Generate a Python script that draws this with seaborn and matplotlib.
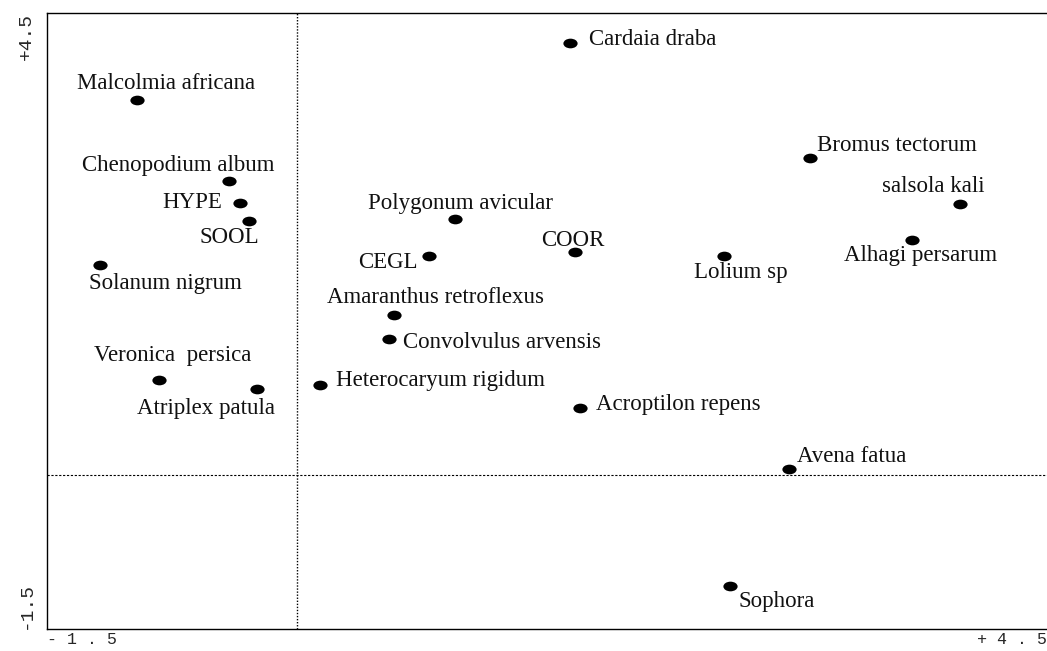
import matplotlib
matplotlib.use('Agg')
import matplotlib.pyplot as plt
import seaborn as sns
import pandas as pd
from matplotlib.path import Path
from matplotlib.transforms import Affine2D

# Species scores
species = ['Cardaia draba', 'Malcolmia africana', 'Chenopodium album', 'HYPE', 'SOOL',
           'Solanum nigrum', 'Veronica  persica', 'Atriplex patula', 'Polygonum avicular',
           'CEGL', 'COOR', 'Amaranthus retroflexus', 'Convolvulus arvensis',
           'Heterocaryum rigidum', 'Acroptilon repens', 'Lolium sp', 'Bromus tectorum',
           'salsola kali', 'Alhagi persarum', 'Avena fatua', 'Sophora']
axis1 = [1.64, -0.96, -0.41, -0.34, -0.29, -1.18, -0.83, -0.24, 0.95, 0.79, 1.67,
         0.58, 0.55, 0.14, 1.70, 2.56, 3.08, 3.98, 3.69, 2.95, 2.60]
axis2 = [4.21, 3.65, 2.86, 2.65, 2.47, 2.05, 0.93, 0.84, 2.49, 2.13, 2.17,
         1.56, 1.32, 0.88, 0.65, 2.13, 3.09, 2.64, 2.29, 0.06, -1.08]

# label placement relative to the point (pixels, y up) and horizontal alignment
label_offsets = [(19, 3, 'left'), (29, 17, 'center'), (-50, 16, 'center'), (-18, 0, 'right'),
                 (-19, -16, 'center'), (65, -19, 'center'), (14, 24, 'center'),
                 (-51, -20, 'center'), (5, 16, 'center'), (-11, -6, 'right'),
                 (-3, 12, 'center'), (42, 17, 'center'), (14, -3, 'left'), (16, 4, 'left'),
                 (16, 4, 'left'), (17, -16, 'center'), (7, 12, 'left'), (-27, 17, 'center'),
                 (9, -16, 'center'), (8, 12, 'left'), (8, -16, 'left')]

df = pd.DataFrame({'species': species, 'axis1': axis1, 'axis2': axis2})

sns.set_style('white')
plt.rcParams['font.family'] = ['Liberation Serif', 'DejaVu Serif']

fig = plt.figure(figsize=(10.47, 6.51), dpi=100)
ax = fig.add_axes([47 / 1047, 22 / 651, 1000 / 1047, 616 / 651])

# flattened ellipse marker like the original
ellipse = Path.unit_circle().transformed(Affine2D().scale(1.0, 0.68))
sns.scatterplot(data=df, x='axis1', y='axis2', marker=ellipse, s=105,
                color='black', edgecolor='black', linewidth=0, ax=ax, zorder=3)

for name, xv, yv, (dx, dy, ha) in zip(species, axis1, axis2, label_offsets):
    ax.annotate(name, (xv, yv), xytext=(dx * 0.72, dy * 0.72), textcoords='offset points',
                ha=ha, va='center', fontsize=16.5, color='#111111')

ax.axvline(0, color='black', lw=1, linestyle=(0, (1, 1.2)), zorder=1)
ax.axhline(0, color='black', lw=0.8, linestyle=(0, (2, 1.5)), zorder=1)

ax.set_xlim(-1.5, 4.5)
ax.set_ylim(-1.5, 4.5)
ax.set_xlabel('')
ax.set_ylabel('')

for side in ['left', 'bottom', 'top']:
    ax.spines[side].set_color('black')
    ax.spines[side].set_linewidth(1)
ax.spines['right'].set_visible(False)

ax.set_xticks([-1.5, 4.5])
ax.set_xticklabels(['- 1 . 5', '+ 4 . 5'], family='Liberation Mono', fontsize=12)
ax.get_xticklabels()[0].set_ha('left')
ax.get_xticklabels()[1].set_ha('right')
ax.set_yticks([-1.5, 4.5])
ax.set_yticklabels(['-1.5', '+4.5'], family='Liberation Mono', fontsize=14, rotation=90)
ax.get_yticklabels()[0].set_va('bottom')
ax.get_yticklabels()[1].set_va('top')

minor = [-1.0 + 0.5 * i for i in range(11)]
ax.set_xticks(minor, minor=True)
ax.set_yticks(minor, minor=True)
ax.tick_params(axis='x', which='major', length=0, pad=2)
ax.tick_params(axis='y', which='major', length=0, pad=9)
ax.tick_params(axis='y', which='minor', direction='out', length=4, width=1, color='black')
ax.tick_params(axis='x', which='minor', direction='out', length=1.5, width=1, color='black')

fig.savefig('out.png', dpi=100)
